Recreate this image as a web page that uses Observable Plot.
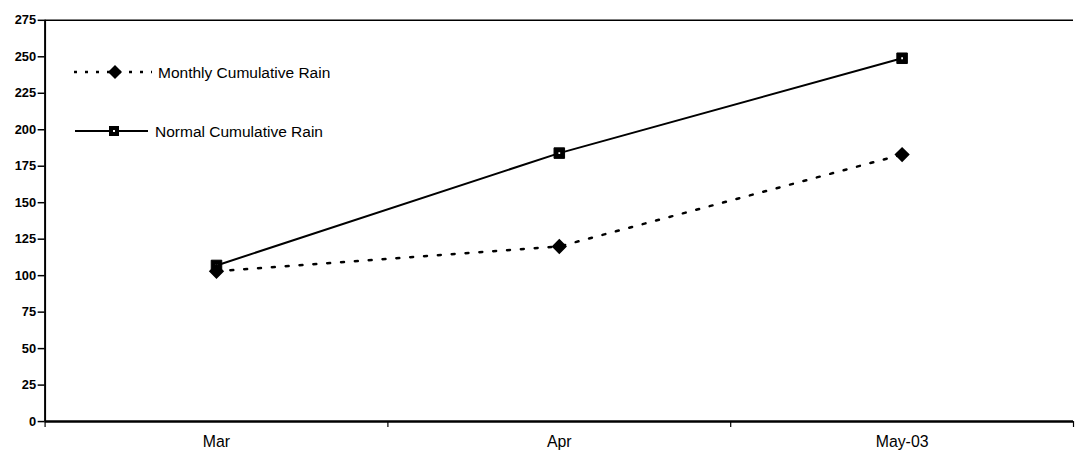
<!DOCTYPE html>
<html>
<head>
<meta charset="utf-8">
<script src="https://cdn.jsdelivr.net/npm/d3@7"></script>
<script src="https://cdn.jsdelivr.net/npm/@observablehq/plot@0.6"></script>
<style>
  html, body { margin: 0; padding: 0; background: #fff; overflow: hidden; }
  #wrap { position: relative; width: 1075px; height: 457px; overflow: hidden; }
  #legend { position: absolute; left: 0; top: 0; }
  svg { font-family: "Liberation Sans", Arial, sans-serif; }
</style>
</head>
<body>
<div id="wrap"></div>
<script>
const months = ["Mar", "Apr", "May-03"];
const monthlyRain = [103, 120, 183];
const normalRain = [107, 184, 249];
const yTicks = [0, 25, 50, 75, 100, 125, 150, 175, 200, 225, 250, 275];
const seriesNames = ["Monthly Cumulative Rain", "Normal Cumulative Rain"];

const monthlyData = months.map((m, i) => ({x: i + 0.5, y: monthlyRain[i]}));
const normalData = months.map((m, i) => ({x: i + 0.5, y: normalRain[i]}));

const chart = Plot.plot({
  width: 1085,
  height: 457,
  marginLeft: 45,
  marginRight: 2,
  marginTop: 20,
  marginBottom: 32,
  style: {fontFamily: "'Liberation Sans', Arial, sans-serif", fontSize: "12px", background: "#fff", color: "#000"},
  x: {domain: [0, months.length]},
  y: {domain: [0, 275]},
  marks: [
    Plot.axisY({ticks: yTicks, tickSize: 7, tickPadding: 2, fontSize: 13, fontWeight: "bold", label: null, strokeWidth: 1.5}),
    Plot.axisX({ticks: d3.range(months.length + 1), tickSize: 6, tickFormat: () => "", label: null, strokeWidth: 1.2}),
    Plot.axisX({ticks: months.map((m, i) => i + 0.5), tickSize: 0, tickPadding: 14, tickFormat: d => months[Math.floor(d)], fontSize: 16, label: null}),
    Plot.ruleX([0], {stroke: "#000", strokeWidth: 2}),
    Plot.ruleY([0], {stroke: "#000", strokeWidth: 2.5}),
    Plot.ruleY([275], {stroke: "#000", strokeWidth: 1.5}),
    Plot.line(normalData, {x: "x", y: "y", stroke: "#000", strokeWidth: 2}),
    Plot.line(monthlyData, {x: "x", y: "y", stroke: "#000", strokeWidth: 2.5, strokeDasharray: "3,11"}),
    Plot.dot(normalData, {x: "x", y: "y", symbol: "square", r: 6, fill: "#000", stroke: "#000", strokeWidth: 1}),
    Plot.dot(normalData, {x: "x", y: "y", symbol: "square", r: 1, fill: "#fff"}),
    Plot.dot(monthlyData, {x: "x", y: "y", symbol: "diamond2", r: 6, fill: "#000", stroke: "#000", strokeWidth: 1.5})
  ]
});

const wrap = document.getElementById("wrap");
wrap.appendChild(chart);

// Legend overlay
const ns = "http://www.w3.org/2000/svg";
const leg = document.createElementNS(ns, "svg");
leg.setAttribute("id", "legend");
leg.setAttribute("width", 360);
leg.setAttribute("height", 160);
leg.innerHTML = `
  <line x1="74" y1="72" x2="152" y2="72" stroke="#000" stroke-width="2.5" stroke-dasharray="3,8"/>
  <path d="M115,65 L122,72 L115,79 L108,72 Z" fill="#000"/>
  <text x="158" y="78" font-size="15.5" font-family="Liberation Sans, Arial, sans-serif">${seriesNames[0]}</text>
  <line x1="75" y1="131" x2="148" y2="131" stroke="#000" stroke-width="2"/>
  <rect x="109" y="126" width="10" height="10" fill="#000"/>
  <rect x="113" y="130" width="2" height="2" fill="#fff"/>
  <text x="155" y="137" font-size="15.5" font-family="Liberation Sans, Arial, sans-serif">${seriesNames[1]}</text>
`;
wrap.appendChild(leg);
</script>
</body>
</html>
